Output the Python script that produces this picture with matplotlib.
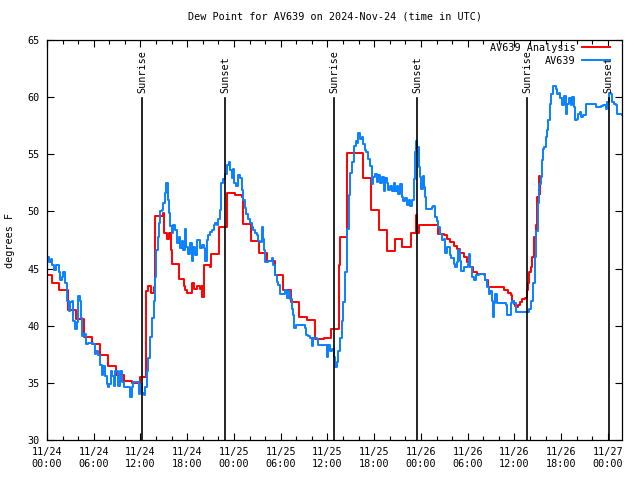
import matplotlib
matplotlib.use('Agg')
import matplotlib.pyplot as plt
from matplotlib.ticker import MultipleLocator

# hours since 2024-11-24 00:00 UTC
obs_t = [0.0, 0.2, 0.5, 0.7, 0.85, 1.2, 1.5, 1.7, 1.9, 2.1, 2.35, 2.6, 2.8, 3.0, 3.2, 3.4, 3.6, 3.85,
         4.0, 4.2, 4.35, 4.5, 4.8, 5.0, 5.2, 5.9, 6.1, 6.3, 6.6, 6.85, 7.05, 7.25, 7.5, 7.7, 7.8,
         8.0, 8.2, 8.4, 8.55, 8.75, 9.05, 9.4, 9.6, 9.9, 10.7, 10.9, 11.1, 11.75, 12.0, 12.2, 12.4,
         12.6, 12.8, 13.0, 13.25, 13.45, 13.7, 13.9, 14.0, 14.2, 14.4, 14.5, 14.7, 14.95, 15.1,
         15.3, 15.5, 15.6, 15.8, 16.0, 16.2, 16.45, 16.7, 16.9, 17.1, 17.3, 17.5, 17.7, 17.9,
         18.15, 18.4, 18.6, 18.8, 19.0, 19.2, 19.7, 19.9, 20.1, 20.3, 20.5, 20.7, 20.9, 21.15,
         21.4, 21.6, 21.8, 22.0, 22.2, 22.35, 22.6, 22.8, 23.07, 23.3, 23.5, 23.7, 23.85, 24.0,
         24.26, 24.5, 24.8, 25.0, 25.2, 25.4, 25.6, 25.8, 26.05, 26.3, 26.5, 26.7, 26.9, 27.1,
         27.3, 27.55, 27.7, 27.85, 28.0, 28.4, 28.85, 29.05, 29.3, 29.5, 29.7, 29.9, 30.55,
         30.75, 31.0, 31.2, 31.4, 31.6, 31.7, 31.95, 33.1, 33.3, 33.55, 33.75, 33.97, 34.2, 34.6,
         34.8, 36.0, 36.1, 36.35, 36.55, 36.8, 37.0, 37.2, 37.4, 37.6, 37.85, 38.05, 38.3, 38.5,
         38.7, 38.9, 39.15, 39.36, 39.6, 39.8, 39.98, 40.2, 40.4, 40.6, 40.8, 41.0, 41.25, 41.45,
         41.7, 41.9, 42.1, 42.3, 42.5, 42.75, 42.95, 43.2, 43.4, 43.6, 43.8, 44.0, 44.25, 44.5,
         44.7, 44.9, 45.1, 45.3, 45.5, 45.7, 45.95, 46.2, 46.4, 46.6, 46.8, 47.04, 47.2, 47.37,
         47.5, 47.7, 47.9, 48.0, 48.2, 48.4, 48.5, 48.7, 49.4, 49.6, 49.8, 50.0, 50.2, 50.45,
         50.7, 50.9, 51.1, 51.3, 51.7, 51.9, 52.2, 52.4, 52.6, 52.8, 53.05, 53.2, 53.5, 54.0,
         54.15, 54.3, 54.6, 54.8, 55.0, 55.4, 56.05, 56.2, 56.5, 56.7, 56.9, 57.1, 57.3, 57.4,
         57.5, 57.7, 58.9, 59.1, 59.5, 59.7, 59.9, 60.15, 61.9, 62.1, 62.4, 62.6, 62.8, 63.0,
         63.2, 63.35, 63.5, 63.7, 63.85, 64.0, 64.2, 64.3, 64.5, 64.7, 64.9, 65.35, 65.5, 65.7,
         65.9, 66.1, 66.3, 66.6, 66.8, 67.0, 67.2, 67.4, 67.6, 67.8, 68.0, 68.2, 68.4, 68.6,
         68.8, 69.2, 70.4, 71.15, 71.4, 71.7, 71.9, 72.1, 72.35, 72.55, 72.75, 72.98, 73.1, 73.8]
obs_v = [46.0, 45.6, 45.8, 45.3, 44.85, 45.3, 44.7, 44.0, 44.3, 44.7, 43.7, 42.2, 41.3, 42.1, 42.2, 40.4, 39.7, 40.3,
         42.6, 42.2, 40.7, 39.1, 39.3, 38.4, 38.5, 38.4, 37.5, 37.8, 37.4, 36.6, 35.7, 36.5, 35.6, 34.9, 34.6,
         34.9, 36.0, 35.6, 34.7, 36.0, 34.7, 36.0, 35.1, 34.6, 33.8, 34.6, 35.1, 34.0, 34.9, 34.1, 33.9,
         34.6, 36.0, 37.2, 39.0, 40.7, 42.2, 44.3, 46.6, 47.8, 49.0, 50.0, 50.1, 50.7, 51.6,
         52.5, 51.0, 49.9, 48.7, 48.1, 48.8, 48.4, 47.2, 47.8, 46.8, 47.4, 46.6, 48.5, 46.9,
         46.3, 47.2, 45.7, 46.9, 46.2, 47.5, 46.8, 47.1, 46.8, 45.7, 47.5, 47.9, 48.2, 48.4,
         48.8, 49.0, 48.8, 49.3, 50.1, 52.5, 52.8, 53.3, 54.06, 54.35, 53.6, 52.9, 53.7, 52.5,
         52.2, 53.2, 52.9, 51.9, 51.0, 50.3, 49.8, 49.3, 49.0, 48.6, 48.4, 48.1, 47.9, 47.4,
         47.3, 48.6, 47.6, 46.6, 45.6, 45.7, 45.9, 45.3, 44.4, 43.8, 43.6, 42.8, 43.1,
         42.4, 43.0, 42.3, 41.5, 40.9, 39.8, 40.1, 39.8, 39.2, 39.1, 38.9, 38.2, 38.9, 38.8,
         38.3, 37.3, 38.3, 37.8, 38.0, 37.3, 36.4, 36.8, 37.8, 38.9, 40.4, 42.1, 44.7, 48.5,
         51.4, 53.4, 54.3, 55.7, 56.2, 56.0, 56.9, 56.3, 56.5, 55.9, 55.4, 55.2, 54.6, 54.0,
         52.4, 53.0, 53.3, 52.6, 53.2, 52.5, 53.0, 51.8, 52.9, 52.5, 51.9, 52.2, 51.8, 52.5,
         51.8, 52.2, 51.5, 52.4, 51.3, 50.9, 51.2, 50.6, 51.0, 50.5, 51.0, 52.8, 55.2, 56.2,
         55.6, 53.9, 53.0, 52.0, 53.1, 52.1, 51.3, 50.2, 50.4, 50.5, 49.5, 49.2, 48.6, 48.0,
         47.5, 47.6, 46.4, 46.9, 46.2, 45.9, 45.4, 45.1, 45.6, 46.6, 45.7, 44.8, 45.1, 45.4,
         46.3, 45.1, 44.3, 44.0, 44.4, 44.5, 44.4, 44.0, 43.4, 42.8, 43.0, 42.2, 40.8, 42.0,
         42.8, 42.0, 41.8, 40.9, 42.0, 42.2, 42.0, 41.2, 41.5, 42.2, 43.7, 46.0, 48.3, 50.7,
         52.4, 53.0, 54.5, 55.5, 55.6, 56.5, 57.1, 58.0, 59.4, 60.3, 61.0, 60.7, 60.3, 60.4,
         59.9, 59.3, 60.1, 58.5, 59.4, 59.9, 59.3, 60.0, 59.1, 58.0, 58.1, 58.5, 58.7, 58.3,
         58.4, 59.4, 59.1, 59.2, 59.3, 59.0, 59.6, 60.4, 60.3, 59.6, 59.4, 59.3, 58.5, 58.4]

ana_t = [0.0, 0.64, 1.6, 2.65, 3.75, 4.7, 5.77, 6.84, 7.8, 8.9, 9.83, 10.9, 11.9, 12.65, 12.75,
         13.0, 13.3, 13.7, 13.9, 14.9, 15.05, 15.4, 15.6, 15.9, 16.0, 17.0, 17.6, 17.75, 17.95,
         18.6, 18.9, 19.2, 19.6, 19.85, 19.95, 20.1, 20.9, 21.1, 22.1, 23.06, 24.1, 25.0, 25.2,
         26.2, 27.26, 28.2, 29.3, 30.25, 31.3, 32.3, 33.4, 34.4, 35.5, 36.5, 37.5, 37.6, 38.5,
         40.6, 41.55, 42.6, 43.7, 44.7, 45.6, 46.7, 47.35, 47.5, 47.7, 50.2, 50.9, 51.3, 51.7,
         52.2, 52.6, 53.0, 53.5, 53.9, 54.3, 54.7, 55.2, 56.2, 56.6, 58.6, 59.2, 59.5, 59.7,
         59.9, 60.1, 60.3, 60.5, 60.7, 61.0, 61.4, 61.6, 61.7, 61.9, 62.1, 62.3, 62.5, 62.7,
         62.95, 63.1, 63.25, 63.3]
ana_v = [44.4, 43.7, 43.1, 41.4, 40.6, 39.0, 38.4, 37.4, 36.5, 35.7, 35.2, 35.0, 35.5, 39.5, 43.0,
         43.5, 42.9, 43.4, 49.6, 49.9, 48.1, 47.6, 48.1, 46.6, 45.4, 44.1, 43.5, 43.1, 42.9,
         43.7, 43.2, 43.5, 43.2, 43.5, 42.5, 45.3, 45.1, 46.3, 48.6, 51.6, 51.4, 51.3, 48.9,
         47.4, 46.4, 45.7, 44.4, 43.1, 42.1, 40.8, 40.5, 38.8, 38.9, 39.7, 45.3, 47.8, 55.1,
         52.9, 50.1, 48.4, 46.5, 47.6, 46.9, 48.1, 49.7, 48.1, 48.8, 48.0, 47.9, 47.6, 47.3,
         47.0, 46.7, 46.4, 46.0, 45.6, 45.1, 44.7, 44.5, 44.0, 43.4, 43.1, 42.9, 42.7, 42.2,
         41.9, 41.7, 41.6, 41.8, 42.1, 42.3, 42.4, 43.1, 43.7, 44.7, 45.1, 46.0, 47.8, 48.8,
         51.3, 53.1, 51.5, 51.5]

sun_t = [12.2, 22.9, 36.85, 47.5, 61.6, 72.1]
sun_names = ["Sunrise", "Sunset", "Sunrise", "Sunset", "Sunrise", "Sunset"]

tick_hours = list(range(0, 73, 6))
tick_labels = ["11/24\n00:00", "11/24\n06:00", "11/24\n12:00", "11/24\n18:00",
               "11/25\n00:00", "11/25\n06:00", "11/25\n12:00", "11/25\n18:00",
               "11/26\n00:00", "11/26\n06:00", "11/26\n12:00", "11/26\n18:00",
               "11/27\n00:00"]

plt.rcParams['font.family'] = ['DejaVu Sans Mono']
plt.rcParams['font.size'] = 7.3

fig = plt.figure(figsize=(6.4, 4.8), dpi=100)
ax = fig.add_axes([47/640, 40/480, 575/640, 400/480])

ax.plot(ana_t, ana_v, color='#ff0000', lw=1.4, drawstyle='steps-post', label='AV639 Analysis')
ax.plot(obs_t, obs_v, color='#0a80ff', lw=1.4, drawstyle='steps-post', label='AV639')

for t, name in zip(sun_t, sun_names):
    ax.plot([t, t], [30, 59.9], color='black', lw=1.2)
    ax.text(t, 60.4, name, rotation=90, ha='center', va='bottom')

ax.set_xlim(0, 73.8)
ax.set_ylim(30, 65)
ax.set_xticks(tick_hours)
ax.set_xticklabels(tick_labels)
ax.xaxis.set_minor_locator(MultipleLocator(2))
ax.set_yticks(range(30, 66, 5))
ax.tick_params(which='both', direction='in', top=True, right=True, width=0.8)
ax.tick_params(which='major', length=5, pad=5)
ax.tick_params(which='minor', length=3)
for s in ax.spines.values():
    s.set_linewidth(0.9)

ax.set_title("Dew Point for AV639 on 2024-Nov-24 (time in UTC)", fontsize=7.3, pad=15)
fig.text(10/640, 0.5, "degrees F", rotation=90, ha='center', va='center')

ax.legend(loc='upper right', bbox_to_anchor=(1 - 12/575, 1 - 3/400), frameon=False,
          markerfirst=False, handlelength=2.8, handletextpad=0.6, borderpad=0,
          borderaxespad=0, labelspacing=0.3)

fig.savefig('out.png', dpi=100)
